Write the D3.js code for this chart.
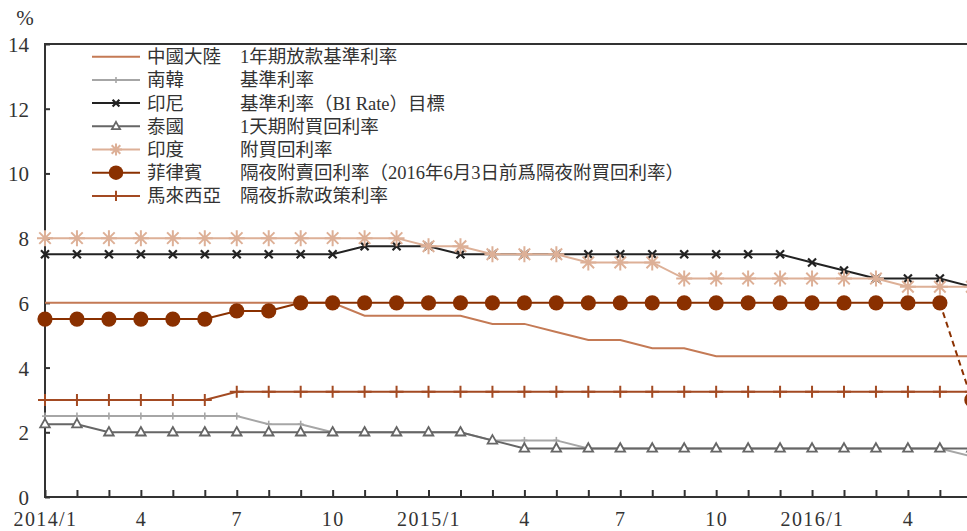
<!DOCTYPE html>
<html><head><meta charset="utf-8">
<script src="https://cdn.jsdelivr.net/npm/d3@7"></script>
<style>
html,body{margin:0;padding:0;background:#fff;}
svg{display:block;font-family:'Liberation Serif','Noto Sans CJK TC',serif;}
</style></head>
<body>
<svg id="chart" width="967" height="531"></svg>
<script>
// Months 2014/1 .. 2016/6
const months = ["2014/1","2014/2","2014/3","2014/4","2014/5","2014/6","2014/7","2014/8","2014/9","2014/10","2014/11","2014/12",
  "2015/1","2015/2","2015/3","2015/4","2015/5","2015/6","2015/7","2015/8","2015/9","2015/10","2015/11","2015/12",
  "2016/1","2016/2","2016/3","2016/4","2016/5","2016/6"];
const tickLabels = {0:"2014/1",3:"4",6:"7",9:"10",12:"2015/1",15:"4",18:"7",21:"10",24:"2016/1",27:"4"};
const yTicks = [0,2,4,6,8,10,12,14];

const china     = [6,6,6,6,6,6,6,6,6,6,5.6,5.6,5.6,5.6,5.35,5.35,5.1,4.85,4.85,4.6,4.6,4.35,4.35,4.35,4.35,4.35,4.35,4.35,4.35,4.35];
const korea     = [2.5,2.5,2.5,2.5,2.5,2.5,2.5,2.25,2.25,2,2,2,2,2,1.75,1.75,1.75,1.5,1.5,1.5,1.5,1.5,1.5,1.5,1.5,1.5,1.5,1.5,1.5,1.25];
const indonesia = [7.5,7.5,7.5,7.5,7.5,7.5,7.5,7.5,7.5,7.5,7.75,7.75,7.75,7.5,7.5,7.5,7.5,7.5,7.5,7.5,7.5,7.5,7.5,7.5,7.25,7,6.75,6.75,6.75,6.5];
const thailand  = [2.25,2.25,2,2,2,2,2,2,2,2,2,2,2,2,1.75,1.5,1.5,1.5,1.5,1.5,1.5,1.5,1.5,1.5,1.5,1.5,1.5,1.5,1.5,1.5];
const india     = [8,8,8,8,8,8,8,8,8,8,8,8,7.75,7.75,7.5,7.5,7.5,7.25,7.25,7.25,6.75,6.75,6.75,6.75,6.75,6.75,6.75,6.5,6.5,6.5];
const philippines = [5.5,5.5,5.5,5.5,5.5,5.5,5.75,5.75,6,6,6,6,6,6,6,6,6,6,6,6,6,6,6,6,6,6,6,6,6,3];
const malaysia  = [3,3,3,3,3,3,3.25,3.25,3.25,3.25,3.25,3.25,3.25,3.25,3.25,3.25,3.25,3.25,3.25,3.25,3.25,3.25,3.25,3.25,3.25,3.25,3.25,3.25,3.25,3.25];

const names = ["中國大陸","南韓","印尼","泰國","印度","菲律賓","馬來西亞"];
const descs = ["1年期放款基準利率","基準利率","基準利率（BI Rate）目標","1天期附買回利率","附買回利率",
  "隔夜附賣回利率（2016年6月3日前爲隔夜附買回利率）","隔夜拆款政策利率"];

const series = [
  {key:"china", values:china, color:"#C47A55", marker:"none"},
  {key:"korea", values:korea, color:"#A6A6A6", marker:"tick"},
  {key:"indonesia", values:indonesia, color:"#222222", marker:"x"},
  {key:"thailand", values:thailand, color:"#666666", marker:"tri"},
  {key:"india", values:india, color:"#DDB097", marker:"star"},
  {key:"philippines", values:philippines, color:"#8A3000", marker:"dot"},
  {key:"malaysia", values:malaysia, color:"#A34A22", marker:"plus"}
];

const svg = d3.select("#chart");
const x = d3.scaleLinear().domain([0, months.length-1]).range([45, 45 + 29*31.96]);
const y = d3.scaleLinear().domain([0, 14]).range([497, 44]);

// axes
const yAxis = d3.axisLeft(y).tickValues(yTicks).tickSize(-5).tickPadding(16).tickFormat(d3.format("d"));
const gy = svg.append("g").attr("transform","translate(45,0)").call(yAxis);
gy.select(".domain").remove();
gy.selectAll(".tick line").attr("stroke","#333").attr("stroke-width",2);
gy.selectAll(".tick text").attr("font-size",21).attr("fill","#333").attr("dy","0.36em")
  .attr("font-family","'Liberation Serif',serif");

const xAxis = d3.axisBottom(x).tickValues(d3.range(months.length)).tickSize(-7).tickPadding(15)
  .tickFormat(i => tickLabels[i] || "");
const gx = svg.append("g").attr("transform","translate(0,497)").call(xAxis);
gx.select(".domain").remove();
gx.selectAll(".tick line").attr("stroke","#333").attr("stroke-width",2);
gx.selectAll(".tick text").attr("font-size",20).attr("fill","#333").attr("letter-spacing","1.4px")
  .attr("font-family","'Liberation Serif',serif");

// frame
const frame = svg.append("g").attr("stroke","#333").attr("stroke-width",2).attr("fill","none");
frame.append("line").attr("x1",45).attr("x2",1000).attr("y1",y(14)).attr("y2",y(14));
frame.append("line").attr("x1",45).attr("x2",45).attr("y1",y(14)-1).attr("y2",y(0)+1);
frame.append("line").attr("x1",44).attr("x2",1000).attr("y1",y(0)).attr("y2",y(0));

svg.append("text").attr("x",25).attr("y",25).attr("text-anchor","middle").attr("font-size",21)
  .attr("fill","#333").attr("font-family","'Liberation Serif',serif").text("%");

// markers
function drawMarker(g, type, cx, cy, color, scale) {
  const s = scale || 1;
  if (type === "tick") {
    g.append("line").attr("x1",cx).attr("x2",cx).attr("y1",cy-3.5*s).attr("y2",cy+3.5*s)
      .attr("stroke",color).attr("stroke-width",1.6);
    g.append("line").attr("x1",cx-3*s).attr("x2",cx+3*s).attr("y1",cy).attr("y2",cy)
      .attr("stroke",color).attr("stroke-width",1.6);
  } else if (type === "x") {
    const r = 4*s;
    g.append("path").attr("d",`M${cx-r},${cy-r}L${cx+r},${cy+r}M${cx-r},${cy+r}L${cx+r},${cy-r}`)
      .attr("stroke",color).attr("stroke-width",2.2).attr("fill","none");
  } else if (type === "tri") {
    const w = 4.8*s, h = 8.5*s;
    g.append("path").attr("d",`M${cx},${cy-h*0.62}L${cx+w},${cy+h*0.38}L${cx-w},${cy+h*0.38}Z`)
      .attr("stroke",color).attr("stroke-width",1.8).attr("fill","#fff");
  } else if (type === "star") {
    const r = 8*s, d = r*0.72;
    g.append("path").attr("d",`M${cx},${cy-r}L${cx},${cy+r}M${cx-r},${cy}L${cx+r},${cy}M${cx-d},${cy-d}L${cx+d},${cy+d}M${cx-d},${cy+d}L${cx+d},${cy-d}`)
      .attr("stroke",color).attr("stroke-width",2).attr("fill","none");
  } else if (type === "dot") {
    g.append("circle").attr("cx",cx).attr("cy",cy).attr("r",7.6*s).attr("fill",color);
  } else if (type === "plus") {
    g.append("path").attr("d",`M${cx},${cy-6*s}L${cx},${cy+6*s}M${cx-7*s},${cy}L${cx+7*s},${cy}`)
      .attr("stroke",color).attr("stroke-width",2).attr("fill","none");
  }
}

const line = d3.line().x(d => x(d.i)).y(d => y(d.v));
series.forEach(s => {
  const pts = s.values.map((v,i) => ({i, v}));
  const g = svg.append("g").attr("class","series-"+s.key);
  if (s.key === "philippines") {
    g.append("path").attr("d", line(pts.slice(0, pts.length-1))).attr("fill","none")
      .attr("stroke", s.color).attr("stroke-width",2);
    g.append("path").attr("d", line(pts.slice(pts.length-2))).attr("fill","none")
      .attr("stroke", s.color).attr("stroke-width",2).attr("stroke-dasharray","6,4");
  } else {
    g.append("path").attr("d", line(pts)).attr("fill","none")
      .attr("stroke", s.color).attr("stroke-width",2);
  }
  if (s.marker !== "none") pts.forEach(p => drawMarker(g, s.marker, x(p.i), y(p.v), s.color, 1));
});

// legend
const leg = svg.append("g");
series.forEach((s, k) => {
  const ly = 56.7 + k*23.2;
  leg.append("line").attr("x1",92).attr("x2",140).attr("y1",ly).attr("y2",ly)
    .attr("stroke",s.color).attr("stroke-width",2);
  if (s.marker !== "none") drawMarker(leg, s.marker, 116, ly, s.color, s.marker==="star"?0.75:(s.marker==="dot"?0.95:0.85));
  leg.append("text").attr("x",147).attr("y",ly+6.5).attr("font-size",18.5).attr("fill","#333").text(names[k]);
  leg.append("text").attr("x",240).attr("y",ly+6.5).attr("font-size",18.5).attr("fill","#333").text(descs[k]);
});
</script>
</body></html>
